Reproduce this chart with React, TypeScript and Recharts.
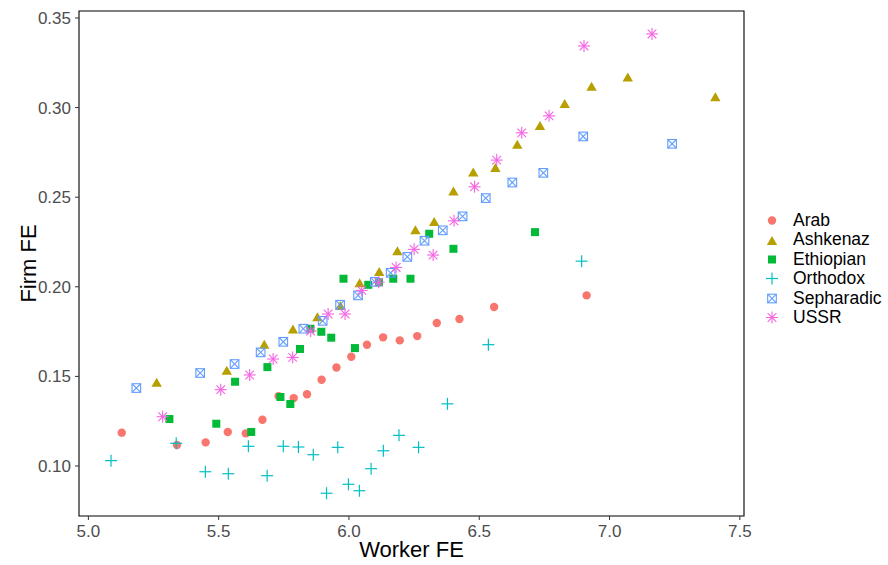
import React from 'react';
import {
  ScatterChart,
  Scatter,
  XAxis,
  YAxis,
  Legend,
  ReferenceArea,
} from 'recharts';

// worker FE (x) and firm FE (y), 20 bins per group
const arabWorker = [5.128, 5.34, 5.45, 5.535, 5.604, 5.668, 5.73, 5.788, 5.839, 5.895, 5.952, 6.009, 6.069, 6.131, 6.195, 6.262, 6.337, 6.424, 6.557, 6.912];
const arabFirm = [0.1186, 0.1117, 0.1132, 0.119, 0.1182, 0.1258, 0.139, 0.1379, 0.14, 0.1481, 0.155, 0.161, 0.1677, 0.1718, 0.1701, 0.1725, 0.1798, 0.182, 0.1887, 0.1952];

const ashkenazWorker = [5.262, 5.531, 5.675, 5.785, 5.879, 5.967, 6.041, 6.116, 6.186, 6.255, 6.327, 6.401, 6.477, 6.562, 6.646, 6.733, 6.828, 6.931, 7.07, 7.406];
const ashkenazFirm = [0.1468, 0.1534, 0.168, 0.1764, 0.1833, 0.1896, 0.2022, 0.2086, 0.2201, 0.2318, 0.2365, 0.2535, 0.2641, 0.2666, 0.2796, 0.29, 0.3023, 0.3119, 0.3171, 0.306];

const ethiopianWorker = [5.311, 5.491, 5.563, 5.625, 5.687, 5.737, 5.775, 5.812, 5.852, 5.894, 5.932, 5.979, 6.023, 6.074, 6.115, 6.17, 6.236, 6.308, 6.401, 6.714];
const ethiopianFirm = [0.1262, 0.1236, 0.147, 0.119, 0.1552, 0.1385, 0.1346, 0.1653, 0.1766, 0.1749, 0.1716, 0.2045, 0.1658, 0.2011, 0.2025, 0.2045, 0.2045, 0.2296, 0.2212, 0.2305];

const orthodoxWorker = [5.087, 5.337, 5.449, 5.537, 5.614, 5.686, 5.748, 5.806, 5.863, 5.914, 5.957, 5.998, 6.04, 6.085, 6.132, 6.192, 6.267, 6.378, 6.535, 6.893];
const orthodoxFirm = [0.103, 0.1127, 0.0968, 0.0957, 0.111, 0.0946, 0.111, 0.1106, 0.1063, 0.0848, 0.1104, 0.0898, 0.0862, 0.0985, 0.1085, 0.1171, 0.1104, 0.1347, 0.1677, 0.2143];

const sepharadicWorker = [5.184, 5.429, 5.561, 5.661, 5.748, 5.825, 5.899, 5.966, 6.035, 6.099, 6.16, 6.224, 6.29, 6.36, 6.436, 6.525, 6.627, 6.746, 6.899, 7.24];
const sepharadicFirm = [0.1435, 0.1519, 0.1569, 0.1634, 0.1693, 0.1766, 0.181, 0.19, 0.1952, 0.2028, 0.2078, 0.2167, 0.2257, 0.2315, 0.2393, 0.2495, 0.2582, 0.2636, 0.2839, 0.2798];

const ussrWorker = [5.285, 5.508, 5.619, 5.709, 5.784, 5.853, 5.92, 5.985, 6.049, 6.114, 6.181, 6.25, 6.323, 6.403, 6.482, 6.567, 6.663, 6.768, 6.902, 7.163];
const ussrFirm = [0.1275, 0.1426, 0.1508, 0.1597, 0.1606, 0.1753, 0.1848, 0.1848, 0.198, 0.2026, 0.2108, 0.2209, 0.2177, 0.2368, 0.2558, 0.2707, 0.2859, 0.2954, 0.3344, 0.3411];

const xTicks = [5.0, 5.5, 6.0, 6.5, 7.0, 7.5];
const yTicks = [0.1, 0.15, 0.2, 0.25, 0.3, 0.35];
const xDomain: [number, number] = [4.964, 7.516];
const yDomain: [number, number] = [0.0721, 0.3539];

const toPoints = (xs: number[], ys: number[]) => xs.map((x, i) => ({ x, y: ys[i] }));

type Glyph = 'circle' | 'triangle' | 'square' | 'plus' | 'boxx' | 'asterisk';

function drawGlyph(kind: Glyph, cx: number, cy: number, color: string) {
  switch (kind) {
    case 'circle':
      return <circle cx={cx} cy={cy} r={4.2} fill={color} />;
    case 'triangle': {
      const h = 9, w = 10.4;
      return (
        <polygon
          points={`${cx},${cy - h / 2} ${cx + w / 2},${cy + h / 2} ${cx - w / 2},${cy + h / 2}`}
          fill={color}
        />
      );
    }
    case 'square':
      return <rect x={cx - 4} y={cy - 4} width={8} height={8} fill={color} />;
    case 'plus':
      return (
        <g stroke={color} strokeWidth={1.2}>
          <line x1={cx - 6} y1={cy} x2={cx + 6} y2={cy} />
          <line x1={cx} y1={cy - 6} x2={cx} y2={cy + 6} />
        </g>
      );
    case 'boxx':
      return (
        <g stroke={color} strokeWidth={1.1} fill="none">
          <rect x={cx - 4.3} y={cy - 4.3} width={8.6} height={8.6} />
          <line x1={cx - 4.3} y1={cy - 4.3} x2={cx + 4.3} y2={cy + 4.3} />
          <line x1={cx - 4.3} y1={cy + 4.3} x2={cx + 4.3} y2={cy - 4.3} />
        </g>
      );
    case 'asterisk':
      return (
        <g stroke={color} strokeWidth={1.1}>
          <line x1={cx - 6} y1={cy} x2={cx + 6} y2={cy} />
          <line x1={cx} y1={cy - 6} x2={cx} y2={cy + 6} />
          <line x1={cx - 4.3} y1={cy - 4.3} x2={cx + 4.3} y2={cy + 4.3} />
          <line x1={cx - 4.3} y1={cy + 4.3} x2={cx + 4.3} y2={cy - 4.3} />
        </g>
      );
  }
}

const groups: { name: string; color: string; glyph: Glyph; data: { x: number; y: number }[] }[] = [
  { name: 'Arab', color: '#F8766D', glyph: 'circle', data: toPoints(arabWorker, arabFirm) },
  { name: 'Ashkenaz', color: '#B79F00', glyph: 'triangle', data: toPoints(ashkenazWorker, ashkenazFirm) },
  { name: 'Ethiopian', color: '#00BA38', glyph: 'square', data: toPoints(ethiopianWorker, ethiopianFirm) },
  { name: 'Orthodox', color: '#00BFC4', glyph: 'plus', data: toPoints(orthodoxWorker, orthodoxFirm) },
  { name: 'Sepharadic', color: '#619CFF', glyph: 'boxx', data: toPoints(sepharadicWorker, sepharadicFirm) },
  { name: 'USSR', color: '#F564E3', glyph: 'asterisk', data: toPoints(ussrWorker, ussrFirm) },
];

const font = '"Liberation Sans", Arial, Helvetica, sans-serif';

const LegendBox = () => (
  <div style={{ fontFamily: font, fontSize: 17.5, color: '#000' }}>
    {groups.map((g) => (
      <div key={g.name} style={{ display: 'flex', alignItems: 'center', height: 19.4 }}>
        <svg width={20} height={19} style={{ marginLeft: 18, flexShrink: 0 }}>
          {drawGlyph(g.glyph, 10, 9.5, g.color)}
        </svg>
        <span style={{ marginLeft: 11, lineHeight: '19.4px', whiteSpace: 'nowrap' }}>{g.name}</span>
      </div>
    ))}
  </div>
);

export default function App() {
  return (
    <div style={{ position: 'absolute', left: 0, top: 0, width: 888, height: 565, background: '#fff', fontFamily: font }}>
      <ScatterChart width={888} height={565} margin={{ top: 11, right: 16, bottom: 0, left: 0 }}>
        <XAxis
          type="number"
          dataKey="x"
          domain={xDomain}
          ticks={xTicks}
          allowDataOverflow
          axisLine={false}
          tickLine={{ stroke: '#333333' }}
          tickSize={4}
          tickMargin={5}
          tick={{ fill: '#4D4D4D', fontSize: 17, fontFamily: font }}
          tickFormatter={(v: number) => v.toFixed(1)}
          height={49}
          label={{ value: 'Worker FE', position: 'insideBottom', offset: 8, fill: '#000', fontSize: 22, fontFamily: font }}
        />
        <YAxis
          type="number"
          dataKey="y"
          domain={yDomain}
          ticks={yTicks}
          allowDataOverflow
          axisLine={false}
          tickLine={{ stroke: '#333333' }}
          tickSize={4}
          tickMargin={4}
          tick={{ fill: '#4D4D4D', fontSize: 17, fontFamily: font }}
          tickFormatter={(v: number) => v.toFixed(2)}
          width={79}
          label={{
            value: 'Firm FE',
            angle: -90,
            position: 'insideLeft',
            offset: 28,
            fill: '#000',
            fontSize: 22,
            fontFamily: font,
            style: { textAnchor: 'middle' },
          }}
        />
        <ReferenceArea
          x1={xDomain[0]}
          x2={xDomain[1]}
          y1={yDomain[0]}
          y2={yDomain[1]}
          fill="none"
          stroke="#000"
          strokeWidth={1.1}
        />
        {groups.map((g) => (
          <Scatter
            key={g.name}
            name={g.name}
            data={g.data}
            fill={g.color}
            isAnimationActive={false}
            shape={(p: any) => drawGlyph(g.glyph, p.cx, p.cy, g.color)}
          />
        ))}
        <Legend
          layout="vertical"
          align="right"
          verticalAlign="middle"
          wrapperStyle={{ top: 211, right: 16, width: 128 }}
          content={() => <LegendBox />}
        />
      </ScatterChart>
    </div>
  );
}
